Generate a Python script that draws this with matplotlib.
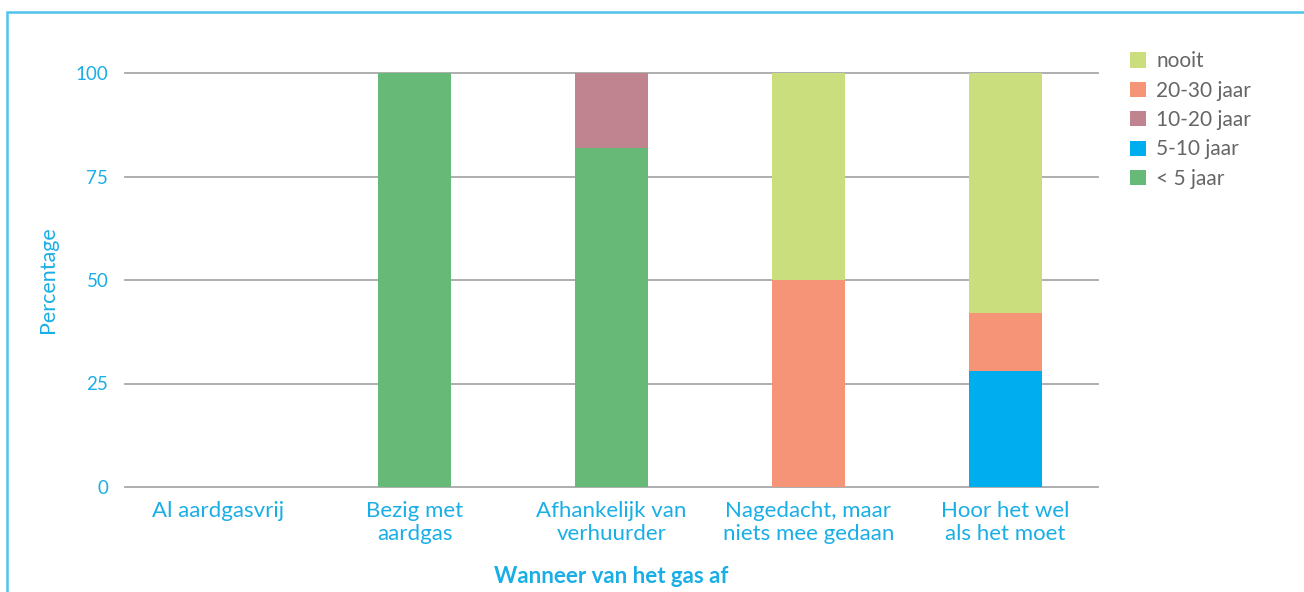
import matplotlib.pyplot as plt
import numpy as np
from matplotlib import patches

categories = ["Al aardgasvrij", "Bezig met\naardgas", "Afhankelijk van\nverhuurder",
              "Nagedacht, maar\nniets mee gedaan", "Hoor het wel\nals het moet"]
series = ["< 5 jaar", "5-10 jaar", "10-20 jaar", "20-30 jaar", "nooit"]
lt5 = [0, 100, 82, 0, 0]
y5_10 = [0, 0, 0, 0, 28]
y10_20 = [0, 0, 18, 0, 0]
y20_30 = [0, 0, 0, 50, 14]
nooit = [0, 0, 0, 50, 58]
colors = ["#67B977", "#00AEEF", "#BF8490", "#F59477", "#CBDE7D"]

blue = "#1AAEE6"
plt.rcParams["font.family"] = ["Lato", "DejaVu Sans"]

fig = plt.figure(figsize=(13.04, 5.92), dpi=100)
ax = fig.add_axes([125 / 1304, 105 / 592, 973 / 1304, 414 / 592])

# frame around the figure
fig.patches.append(patches.Rectangle((7 / 1304, -0.1), 1.2, 1.1 - 12 / 592,
                                     transform=fig.transFigure, fill=False,
                                     ec="#4FC3EF", lw=1.8))

x = np.arange(len(categories))
bottom = np.zeros(len(categories))
handles = []
for vals, name, col in zip([lt5, y5_10, y10_20, y20_30, nooit], series, colors):
    h = ax.bar(x, vals, 0.37, bottom=bottom, color=col, label=name, zorder=3)
    handles.append(h)
    bottom += np.array(vals)

for yv in [0, 25, 50, 75, 100]:
    ax.axhline(yv, color="#A8A8A8", lw=1.3, zorder=2, clip_on=False)

ax.set_xlim(-0.47, 4.47)
ax.set_ylim(0, 100)
ax.set_yticks([0, 25, 50, 75, 100])
ax.set_xticks(x)
ax.set_xticklabels(categories, color=blue, fontsize=16, linespacing=1.2)
ax.tick_params(axis="y", colors=blue, labelsize=13.5, length=0, pad=12)
ax.tick_params(axis="x", length=0, pad=10)
for s in ax.spines.values():
    s.set_visible(False)

ax.set_ylabel("Percentage", color=blue, fontsize=15.5, labelpad=13)
ax.set_xlabel("Wanneer van het gas af", color=blue, fontsize=16,
              fontweight="bold", labelpad=16)

leg = fig.legend(handles[::-1], series[::-1], loc="upper left",
                 bbox_to_anchor=(1122 / 1304, 1 - 43 / 592), frameon=False,
                 fontsize=15, handlelength=0.75, handleheight=0.75,
                 handletextpad=0.5, labelspacing=0.45, borderaxespad=0)
for t in leg.get_texts():
    t.set_color("#666666")

fig.savefig("out.png", dpi=100)
